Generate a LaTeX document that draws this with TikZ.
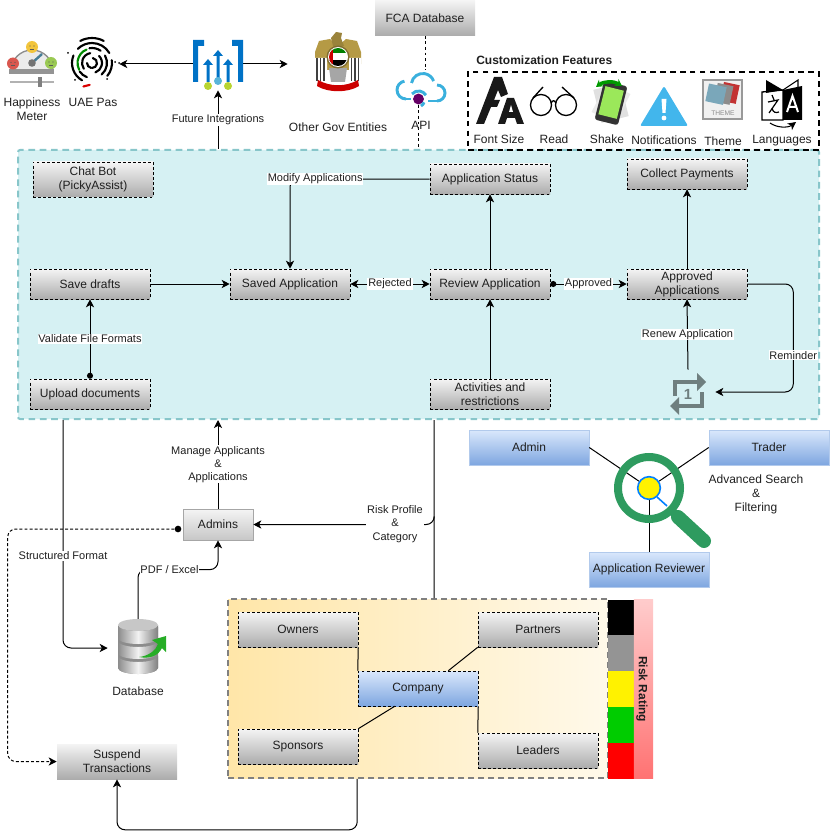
\documentclass[tikz,border=0pt]{standalone}
\usepackage{fontspec}
\setmainfont{Liberation Sans}
\usepackage{xcolor}
\usetikzlibrary{arrows.meta}
\usetikzlibrary{calc}
\definecolor{greytop}{HTML}{F4F4F4}
\definecolor{greybot}{HTML}{ACACAC}
\definecolor{bluetop}{HTML}{DAE8FC}
\definecolor{bluebot}{HTML}{7EA6E0}
\definecolor{panelfill}{HTML}{D6F1F3}
\definecolor{paneldash}{HTML}{88C6CA}
\definecolor{frameleft}{HTML}{FFE6A8}
\definecolor{frameright}{HTML}{FFF9EA}
\definecolor{azure}{HTML}{0072C6}
\definecolor{limedot}{HTML}{B8D432}
\definecolor{skydot}{HTML}{59B4D9}
\definecolor{searchgreen}{HTML}{2E9B5F}
\definecolor{repeatgrey}{HTML}{6F7F7F}
\definecolor{eagle}{HTML}{B59A45}
\definecolor{cloudblue}{HTML}{3AB0DD}
\definecolor{facered}{HTML}{D9574F}
\definecolor{faceyellow}{HTML}{F2C53D}
\definecolor{facegreen}{HTML}{9AC953}
\definecolor{phonegreen}{HTML}{9BE85A}
\tikzstyle{flowbox} = [rectangle, draw=black, dash pattern=on 2.2pt off 1.6pt, top color=greytop, bottom color=greybot,
                       minimum width=90pt, minimum height=22.5pt, inner sep=0pt, align=center]
\tikzstyle{rolebox} = [rectangle, draw=bluebot!60, top color=bluetop, bottom color=bluebot,
                       minimum width=90pt, minimum height=26.25pt, inner sep=0pt, align=center]
\tikzstyle{lbl} = [fill=white, sharp corners, inner sep=0.6pt, align=center, font=\fontsize{8.25}{9.9}\selectfont]
\tikzstyle{plain} = [inner sep=0pt, align=center]
\tikzstyle{iconbox} = [rectangle, inner sep=0pt]
\tikzstyle{riskband} = [rectangle, inner sep=0pt, minimum width=19.5pt, minimum height=26.85pt]
\tikzstyle{conn} = [->, line width=0.75pt]
\tikzstyle{elbow} = [conn, rounded corners=6pt]

\begin{document}
\begin{tikzpicture}[x=0.75pt,y=-0.75pt,>={Stealth[length=6pt,width=6pt,inset=1.6pt]},
    every node/.style={font=\fontsize{9}{10.5}\selectfont,text=black!88}]
    \useasboundingbox (0,0) rectangle (829,838);
    % big panels
    \node[rectangle, draw=paneldash, fill=panelfill, line width=1.5pt, dash pattern=on 5pt off 3.5pt,
          rounded corners=1.5pt, minimum width=600.75pt, minimum height=201.75pt] (panel) at (418.5,284.5) {};
    \node[rectangle, draw=black!50, left color=frameleft, right color=frameright, line width=1.2pt,
          dash pattern=on 4.5pt off 3pt, minimum width=285pt, minimum height=134.25pt] (frame) at (418,688.5) {};
    \node[rectangle, draw=black, line width=1.2pt, dash pattern=on 4.2pt off 3.2pt,
          minimum width=263.25pt, minimum height=58.5pt] (custom) at (643.5,111) {};
    \node[plain, anchor=west, font=\fontsize{9}{10.5}\selectfont\bfseries] (customtitle) at (476,60) {Customization Features};
    % flow nodes
    \node[flowbox] (upload) at (90,394) {Upload documents};
    \node[flowbox] (drafts) [above of=upload,node distance=82.5pt] {Save drafts};
    \node[flowbox, minimum height=26.25pt] (chatbot) [above of=drafts,node distance=78.4pt,xshift=2.25pt] {Chat Bot\\(PickyAssist)};
    \node[flowbox] (saved) [right of=drafts,node distance=150pt] {Saved Application};
    \node[flowbox] (review) [right of=saved,node distance=150pt] {Review Application};
    \node[flowbox] (status) [above of=review,node distance=78.75pt] {Application Status};
    \node[flowbox] (activities) [below of=review,node distance=82.5pt] {Activities and\\restrictions};
    \node[flowbox] (approved) [right of=review,node distance=147.75pt] {Approved\\Applications};
    \node[flowbox] (collect) [above of=approved,node distance=82.5pt] {Collect Payments};
    \node[iconbox, minimum width=40.5pt, minimum height=33pt] (renew) at (688,392) {};
    \node[flowbox, draw=none, minimum width=75pt, minimum height=26.25pt] (fca) at (425,18) {FCA Database};
    % company group
    \node[flowbox, minimum height=26.25pt] (owners) at (298,629.5) {Owners};
    \node[flowbox, minimum height=26.25pt] (partners) [right of=owners,node distance=180pt] {Partners};
    \node[flowbox, minimum height=26.25pt] (sponsors) [below of=owners,node distance=87.75pt] {Sponsors};
    \node[flowbox, minimum height=26.25pt] (leaders) [right of=sponsors,node distance=180pt,yshift=-3pt] {Leaders};
    \node[flowbox, minimum height=26.25pt, top color=bluetop, bottom color=bluebot] (company) at (418,688.5) {Company};
    \draw[line width=0.75pt] (owners.south east) -- (company.north west);
    \draw[line width=0.75pt] (partners.south west) -- ([xshift=-22.5pt]company.north east);
    \draw[line width=0.75pt] (sponsors.north east) -- ([xshift=27.75pt]company.south west);
    \draw[line width=0.75pt] (leaders.north west) -- (company.south east);
    % risk rating
    \node[riskband, fill=black] (riskblack) at (621,617.5) {};
    \node[riskband, fill=black!42] (riskgrey) [below of=riskblack,node distance=26.85pt] {};
    \node[riskband, fill=yellow] (riskyellow) [below of=riskgrey,node distance=26.85pt] {};
    \node[riskband, fill=green!80!black] (riskgreen) [below of=riskyellow,node distance=26.85pt] {};
    \node[riskband, fill=red] (riskred) [below of=riskgreen,node distance=26.85pt] {};
    \node[rectangle, inner sep=0pt, top color=red!20, bottom color=red!55!white, minimum width=14.6pt, minimum height=134.25pt] (riskbar) at (643.5,688.5) {};
    \node[plain, rotate=-90, font=\fontsize{9}{10.5}\selectfont\bfseries] (risktext) at (642,689) {Risk Rating};
    % admins, database, suspend
    \node[rectangle, draw=black!35, top color=greytop, bottom color=black!22, minimum width=52.5pt, minimum height=23.25pt, inner sep=0pt] (admins) at (218,524.5) {Admins};
    \node[iconbox, minimum width=45pt, minimum height=42pt] (db) at (138,648) {};
    \node[plain] (dbtext) at (138,691) {Database};
    \node[rectangle, top color=greytop, bottom color=greybot, minimum width=90pt, minimum height=26.25pt, inner sep=0pt, align=center] (suspend) at (117,761.5) {Suspend\\Transactions};
    \node[circle, fill=black, inner sep=0pt, minimum size=5pt] (admindot) at (178,529) {};
    % flow connectors
    \draw[conn, {Circle[length=4.5pt]}->] (upload.north) -- node[lbl] {Validate File Formats} (drafts.south);
    \draw[conn] (drafts.east) -- (saved.west);
    \draw[conn, <->] (saved.east) -- node[lbl] {Rejected} (review.west);
    \draw[conn, {Circle[length=4.5pt]}->] (review.east) -- node[lbl] {Approved} (approved.west);
    \draw[conn] (review.north) -- (status.south);
    \draw[conn] (activities.north) -- (review.south);
    \draw[conn] (approved.north) -- (collect.south);
    \draw[elbow] (status.west) -| node[lbl,pos=.41] {Modify Applications} (saved.north);
    \draw[conn] (renew.north) -- node[lbl] {Renew Application} (approved.south);
    \draw[elbow] (approved.east) -- ++(34.5pt,0pt) |- node[lbl,pos=.33] {Reminder} (renew.east);
    % outside the panel
    \draw[conn] (admins.north) -- node[lbl] {Manage Applicants\\\&\\Applications} (admins.north |- panel.south);
    \draw[line width=0.75pt] ([xshift=312.75pt]panel.south west) -- ([xshift=155.25pt]frame.north west);
    \draw[elbow] ([xshift=155.25pt,yshift=60pt]frame.north west) |- (admins.east);
    \node[lbl] (risklabel) at (395,524) {Risk Profile\\\&\\Category};
    \draw[elbow] ([xshift=34.5pt]panel.south west) |- node[lbl,pos=.298] {Structured Format} (db.west);
    \draw[elbow] (db.north) |- node[lbl,pos=.697] {PDF / Excel} ($(admins.south)+(0pt,-22pt)$) -- (admins.south);
    \draw[elbow, dash pattern=on 2.2pt off 1.6pt] (admindot.west) -| ([xshift=-36.75pt]suspend.west) -- (suspend.west);
    \draw[elbow] ([xshift=97.5pt]frame.south west) -- ++(0pt,-38.25pt) -| (suspend.south);
    % integration icons row
    \node[iconbox, minimum width=37.5pt, minimum height=39pt] (integ) at (218,64) {};
    \node[iconbox, minimum width=39pt, minimum height=39pt] (uaepas) at (93,64) {};
    \node[iconbox, minimum width=75pt, minimum height=39pt] (emblem) at (338,64) {};
    \node[iconbox, minimum width=37.5pt, minimum height=30pt] (cloud) at (421,90) {};
    \node[circle, fill=violet!80!black, inner sep=0pt, minimum size=8.2pt] (apidot) at (418.5,99) {};
    \draw[conn] (integ.west) -- (uaepas.east);
    \draw[conn] (integ.east) -- (emblem.west);
    \draw[conn] (integ.south |- panel.north) -- node[lbl] {Future Integrations} (integ.south);
    \draw[line width=0.75pt, dash pattern=on 2.2pt off 2pt] (fca.south) -- (fca.south |- cloud.north);
    \draw[line width=0.75pt, dash pattern=on 2.2pt off 2pt] (apidot.south) -- (apidot.south |- panel.north);
    \node[plain] (happytext) at (32,109) {Happiness\\Meter};
    \node[plain] (uaetext) at (93,102) {UAE Pas};
    \node[plain] (govtext) at (338,127) {Other Gov Entities};
    \node[plain] (apitext) at (421,125) {API};
    % happiness meter
    \begin{scope}[shift={(32,71)},x=0.75pt,y=0.75pt]
        \fill[black!8] (-21,0) arc[start angle=180,end angle=0,radius=21] -- cycle;
        \draw[black!45, line width=1pt] (-21,0) arc[start angle=180,end angle=0,radius=21];
        \fill[black!42] (-23,1.5) rectangle (22,-3);
        \draw[black!30, line width=1.6pt] (-22,-11) -- (22,-11);
        \fill[black!50] (6,-6) rectangle (10,-16);
        \draw[cyan!55!black, line width=1.8pt] (0,8) -- (10,17);
        \fill[black!55] (0,8) circle (3.8);
        \fill[facered] (-19,7.5) circle (6);
        \fill[faceyellow] (0,24) circle (6);
        \fill[facegreen] (19,8) circle (6);
        \foreach \fx/\fy in {-19/7.5,0/24,19/8} {
            \fill[black!65] (\fx-2,\fy+1) circle (0.7) (\fx+2,\fy+1) circle (0.7);
            \draw[black!65, line width=0.5pt] (\fx-2.2,\fy-2) -- (\fx+2.2,\fy-2);
        }
    \end{scope}
    % fingerprint
    \begin{scope}[shift={(92,63)},x=0.75pt,y=0.75pt,line width=1.6pt,line cap=round]
        \foreach \fr/\fa/\fb in {25/62/118, 20/30/135, 20/158/240, 20/-40/8, 15/55/100, 15/-50/30, 15/215/250, 10/45/-70, 10/100/215, 5/80/-90, 5/180/260} {
            \draw (\fa:\fr) arc[start angle=\fa,end angle=\fb,radius=\fr];
        }
        \draw[green!55!black] (112:14.5) arc[start angle=112,end angle=208,radius=14.5];
        \draw[red!85!black] (-110:25) -- (-96:22);
        \fill (23,1) circle (1) (27,0) circle (1) (-24,10) circle (1) (-17,-17) circle (1) (15,-16) circle (1);
    \end{scope}
    % integration icon
    \fill[azure] (193,40) -- (204,40) -- (204,46) -- (198,46) -- (198,82) -- (193,82) -- cycle;
    \fill[azure] (243,40) -- (232,40) -- (232,46) -- (238,46) -- (238,82) -- (243,82) -- cycle;
    \foreach \ax/\ay in {208/59,218/50,228/59} {
        \fill[azure] (\ax-1.5,\ay+6) -- (\ax-5,\ay+6) -- (\ax,\ay) -- (\ax+5,\ay+6) -- (\ax+1.5,\ay+6) -- (\ax+1.5,82) -- (\ax-1.5,82) -- cycle;
    }
    \fill[limedot] (208,86) circle (4);
    \fill[skydot] (218,81) circle (4);
    \fill[limedot] (228,86) circle (4);
    % emblem
    \fill[eagle] (338,46) -- (330,39) -- (319,41) -- (315,52) -- (315,64) -- (327,70) -- (349,70) -- (361,64) -- (361,52) -- (357,41) -- (346,39) -- cycle;
    \fill[eagle!85!black] (333,46) -- (331,38) -- (336,32) -- (342,33) -- (341,38) -- (344,46) -- cycle;
    \fill[white] (315,58) rectangle (327,82) (349,58) rectangle (361,82);
    \foreach \wx in {317,320.5,324,351.5,355,358.5} {
        \draw[black!75, line width=1pt] (\wx,58) -- (\wx,81);
    }
    \fill[black!35] (329,68) -- (347,68) -- (345,82) -- (331,82) -- cycle;
    \fill[eagle!70!black] (338,57) circle (11.5);
    \fill[white] (338,57) circle (10);
    \begin{scope}
        \clip (338,57) circle (9);
        \fill[green!50!black] (328,47) rectangle (348,53);
        \fill[black] (328,60) rectangle (348,67);
        \fill[red!80!black] (328,47) rectangle (333,67);
    \end{scope}
    \fill[red!80!black] (318,80) .. controls (330,87) and (346,87) .. (358,80) -- (359,86) .. controls (348,93) and (328,93) .. (317,86) -- cycle;
    % cloud
    \begin{scope}[shift={(421,90)},x=0.75pt,y=0.75pt,cloudblue,line width=2.2pt]
        \draw (-15,-9) arc[start angle=270,end angle=100,radius=9];
        \draw (-9.5,7) arc[start angle=170,end angle=20,radius=11.5];
        \draw (16,5) arc[start angle=90,end angle=-90,radius=8];
        \draw (16,-11) -- (7,-11);
        \draw (-9,-4) arc[start angle=140,end angle=30,radius=8.5];
        \draw (-15,-9) -- (-10,-9);
        \draw (0,-16) arc[start angle=-60,end angle=-20,radius=7];
    \end{scope}
    % font size glyph
    \fill[black!90] (476,124) -- (494,77) -- (502,77) -- (508,94) -- (501,97) -- (498,90) -- (494,100) -- (500,100) -- (497,107) -- (491,107) -- (484,124) -- cycle;
    \fill[black!90] (498,124) -- (507,98) -- (514,98) -- (524,124) -- (517,124) -- (515,118) -- (507,118) -- (505,124) -- cycle;
    \fill[white] (509,112) -- (511,105) -- (513,112) -- cycle;
    % glasses
    \draw[line width=1pt] (541,105) circle (10.5) (566,105) circle (10.5);
    \draw[line width=1pt] (551,103) .. controls (553,100) and (554,100) .. (556,103);
    \draw[line width=1pt] (533,98) -- (543,87) (574,98) -- (562,87);
    % phone
    \begin{scope}[shift={(611,103)},x=0.75pt,y=0.75pt]
        \fill[black!12, rotate=14] (-14,-17) rectangle (14,17);
        \fill[black!8, rotate=-28] (-13,-17) rectangle (13,17);
        \fill[black!80, rotate=-14, rounded corners=2pt] (-12,-20) rectangle (12,20);
        \fill[phonegreen, rotate=-14] (-9.5,-14) rectangle (9.5,15);
    \end{scope}
    \draw[{Stealth[length=5pt,width=6pt]}-{Stealth[length=5pt,width=6pt]}, green!60!black, line width=2.6pt] (596,87) .. controls (604,81) and (614,81) .. (622,86);
    % warning triangle
    \fill[cyan!90!blue!75, rounded corners=1.5pt] (664,86) -- (688,126) -- (640,126) -- cycle;
    \fill[white] (661.5,99) -- (666.5,99) -- (665.5,113) -- (662.5,113) -- cycle;
    \fill[white] (664,118) circle (2.4);
    % theme
    \draw[black!40, fill=black!6, line width=1pt] (703,80) rectangle (742,119);
    \fill[red!70!black!80, rotate around={-12:(728,92)}] (722,83) rectangle (738,102);
    \fill[black!45, rotate around={-12:(722,92)}] (716,84) rectangle (732,103);
    \fill[cyan!55!black!65, rotate around={-12:(715,94)}] (707,85) rectangle (725,103);
    \node[plain, font=\fontsize{5}{5}\selectfont, text=black!45] (themeword) at (723,113) {THEME};
    % languages
    \draw[line width=1pt, fill=white] (762,92) -- (783,90) -- (783,120) -- (762,120) -- cycle;
    \fill[black] (766,80) -- (783,90) -- (766,93) -- cycle;
    \fill[black] (783,90) -- (802,86) -- (802,120) -- (783,120) -- cycle;
    \draw[line width=0.8pt] (783,90) -- (798,80) -- (798,87);
    \draw[white, line width=1.5pt] (787,112) -- (792.5,96) -- (798,112) (789,107) -- (796,107);
    \draw[line width=0.9pt] (768,102) -- (778,100) -- (769,113) (772,95) -- (774,100) (772,108) .. controls (773,113) and (776,113) .. (779,112);
    \draw[->, line width=0.8pt] (770,123) .. controls (777,128) and (788,128) .. (796,122);
    \node[plain] (fontlabel) at (499,139) {Font Size};
    \node[plain] (readlabel) at (554,139) {Read};
    \node[plain] (shakelabel) at (607,139) {Shake};
    \node[plain] (notelabel) at (664,140) {Notifications};
    \node[plain] (themelabel) at (723,141) {Theme};
    \node[plain] (langlabel) at (782,141) {Languages};
    % repeat icon
    \draw[repeatgrey, line width=3pt, line join=miter] (675,396) -- (675,382) -- (698,382);
    \fill[repeatgrey] (697,373) -- (706,382) -- (697,391) -- cycle;
    \draw[repeatgrey, line width=3pt, line join=miter] (702,392) -- (702,406) -- (678,406);
    \fill[repeatgrey] (679,397) -- (670,406) -- (679,415) -- cycle;
    \node[plain, font=\fontsize{11}{11}\selectfont\bfseries, text=repeatgrey] (repeatone) at (688,394) {1};
    % database drum
    \begin{scope}[shift={(138,625)},x=0.75pt,y=0.75pt]
        \fill[black!45] (-20,-2) -- (-20,-43) arc[start angle=180,end angle=360,x radius=20,y radius=6] -- (20,-2) -- cycle;
        \foreach \dt/\db in {-31/-43,-16/-28,0/-13} {
            \shade[left color=black!45, right color=black!50, middle color=black!5] (-20,\dt) -- (-20,\db) arc[start angle=180,end angle=360,x radius=20,y radius=6] -- (20,\dt) arc[start angle=0,end angle=-180,x radius=20,y radius=6] -- cycle;
        }
        \fill[black!22] (0,0) ellipse (20 and 6);
    \end{scope}
    \fill[green!62!black!85] (139,657) .. controls (149,656) and (156,650) .. (158,644) -- (152,640) -- (166,636) -- (166,652) -- (162,648) .. controls (158,656) and (150,659) .. (139,657) -- cycle;
    % search roles
    \node[circle, draw=blue!50!cyan, line width=1.2pt, fill=yellow, inner sep=0pt, minimum size=17pt] (searchdot) at (649,488) {};
    \node[rolebox] (adminrole) at (529,447.5) {Admin};
    \node[rolebox] (traderrole) [right of=adminrole,node distance=180pt] {Trader};
    \node[rolebox] (reviewer) at (649,569.5) {Application Reviewer};
    \draw[line width=0.75pt] (adminrole.east) -- (searchdot);
    \draw[line width=0.75pt] (traderrole.west) -- (searchdot);
    \draw[line width=0.75pt] (reviewer.north) -- (searchdot);
    \node[circle, draw=searchgreen, line width=6pt, inner sep=0pt, minimum size=46.5pt] (ring) at (649,488) {};
    \draw[searchgreen, line width=6pt] (671,510) -- (678,517);
    \draw[searchgreen, line width=10.5pt, line cap=round] (678,517) -- (704,541);
    \draw[blue!50!cyan, line width=1.2pt] (657,497) -- (667,506);
    \node[plain] (searchtext) at (756,494.5) {Advanced Search\\\&\\Filtering};
\end{tikzpicture}
\end{document}
